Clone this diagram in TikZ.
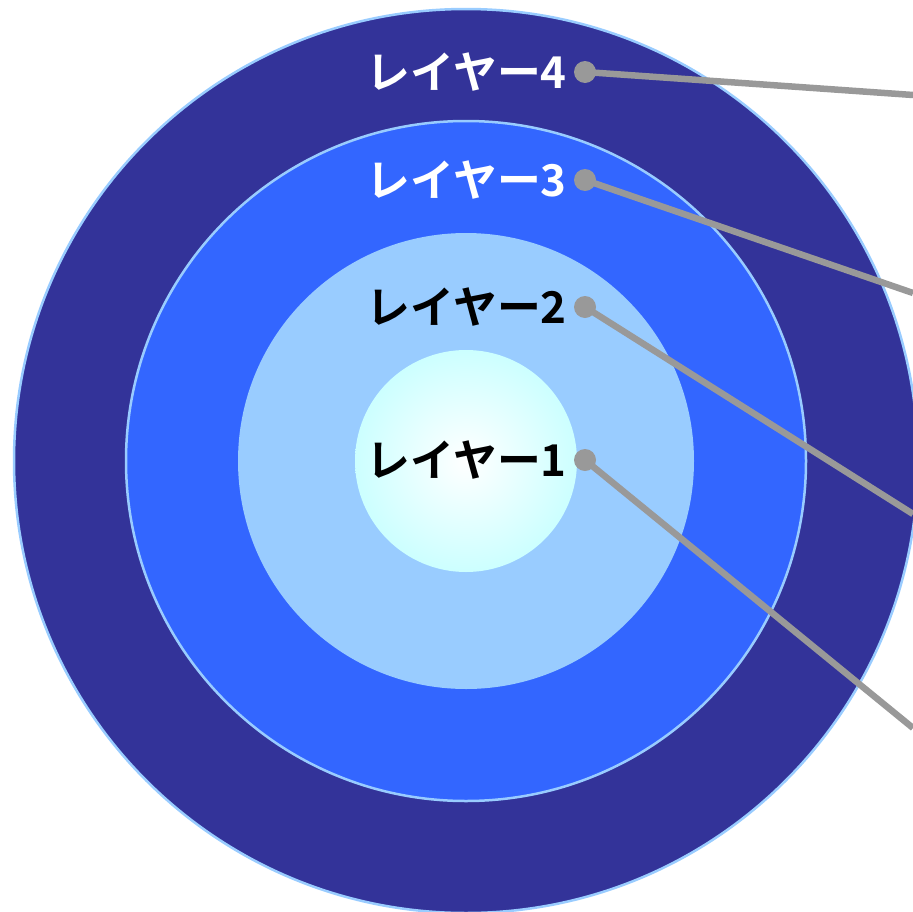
\documentclass[tikz,border=0pt]{standalone}
\usepackage{fontspec}
\newfontfamily\jp{Noto Sans CJK JP}[BoldFont={* Bold}]
\definecolor{c4}{HTML}{333399}
\definecolor{c3}{HTML}{3366FF}
\definecolor{c2}{HTML}{99CCFF}
\definecolor{c1}{HTML}{CCFFFF}
\definecolor{ringline}{HTML}{99CCFF}
\definecolor{conngray}{HTML}{999999}
\tikzset{
  ring/.style={draw=ringline, line width=2.5bp},
  dot/.style={circle, fill=conngray, inner sep=0pt, minimum size=22bp},
  lbl/.style={anchor=east, inner sep=0pt, font=\jp\bfseries\fontsize{44}{50}\selectfont},
  conn/.style={draw=conngray, line width=6.5bp}
}
\begin{document}
\begin{tikzpicture}[x=1bp,y=-1bp]
\useasboundingbox (0,0) rectangle (913,912);
\clip (0,0) rectangle (913,912);
\fill[white] (0,0) rectangle (913,912);
\draw[ring, fill=c4] (466,461) circle[radius=452];
\draw[ring, fill=c3] (466,461) circle[radius=340];
\fill[c2] (466,461) circle[radius=228];
\shade[inner color=white, outer color=c1] (466,461) circle[radius=111];
\coordinate (e4) at (913,95);
\coordinate (e3) at (913,293);
\coordinate (e2) at (913,514);
\coordinate (e1) at (913,728);
\node[dot] (d4) at (585,72) {};
\node[dot] (d3) at (585,180) {};
\node[dot] (d2) at (585,307) {};
\node[dot] (d1) at (585,460) {};
\draw[conn] (d4.center) -- (e4);
\draw[conn] (d3.center) -- (e3);
\draw[conn] (d2.center) -- (e2);
\draw[conn] (d1.center) -- (e1);
\node[lbl, text=white] (t4) at (567,72) {レイヤー4};
\node[lbl, text=white] (t3) at (567,180) {レイヤー3};
\node[lbl, text=black] (t2) at (567,307) {レイヤー2};
\node[lbl, text=black] (t1) at (567,460) {レイヤー1};
\end{tikzpicture}
\end{document}
